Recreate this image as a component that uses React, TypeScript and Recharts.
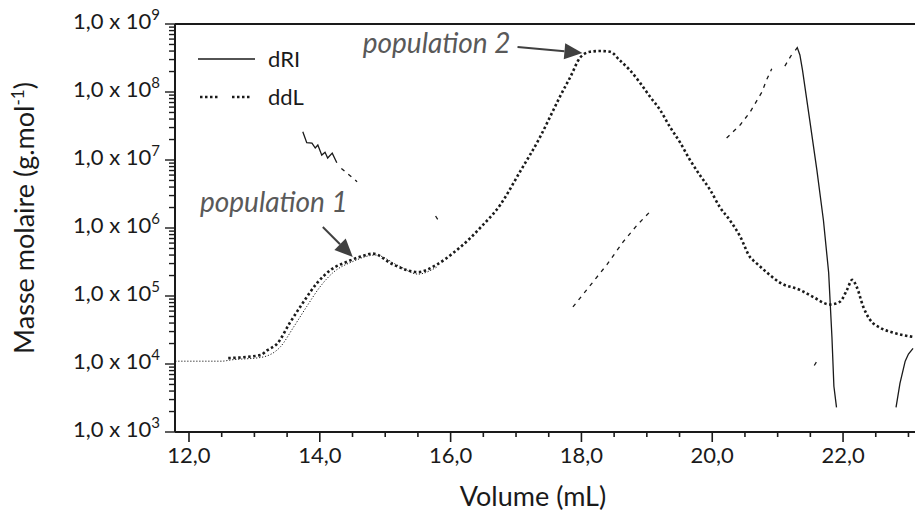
import React from "react";
import {
  LineChart,
  Line,
  XAxis,
  YAxis,
  Legend,
  Label,
  ReferenceLine,
  ReferenceDot,
} from "recharts";

const FONT = "Lato, 'Open Sans', sans-serif";
const INK = "#1a1a1a";
const NOTE = "#595959";

// ---------------------------------------------------------------------------
// Axis ticks
// ---------------------------------------------------------------------------
const volumeTicks = [
  12, 12.5, 13, 13.5, 14, 14.5, 15, 15.5, 16, 16.5, 17, 17.5, 18, 18.5, 19,
  19.5, 20, 20.5, 21, 21.5, 22, 22.5, 23,
];
const volumeLabelled = [12, 14, 16, 18, 20, 22];
const massDecades = [1e3, 1e4, 1e5, 1e6, 1e7, 1e8, 1e9];
const massMinorSteps = [2, 3, 4, 5, 6, 7, 8, 9];
const massTicks = [
  ...massDecades,
  ...massDecades.slice(0, -1).flatMap((d) => massMinorSteps.map((s) => s * d)),
];
const legendNames = ["dRI", "ddL"];

// ---------------------------------------------------------------------------
// Series (volume in mL, molar mass in g/mol, null = gap)
// ---------------------------------------------------------------------------
// ddL: thick dotted trace
const ddlVolume = [
  12.6, 13.09, 13.2, 13.35, 13.54, 13.74, 13.96, 14.16, 14.42, 14.66, 14.81,
  15.12, 15.5, 15.79, 16.04, 16.3, 16.45, 16.76, 17.06, 17.37, 17.52, 17.67,
  17.83, 17.98, 18.13, 18.28, 18.44, 18.59, 18.74, 18.9, 19.05, 19.2, 19.35,
  19.51, 19.66, 19.81, 19.97, 20.12, 20.27, 20.43, 20.58, 20.65, 20.84, 21.04,
  21.34, 21.54, 21.8, 21.95, 22.06, 22.14, 22.21, 22.31, 22.41, 22.57, 22.76,
  23.07,
];
const ddlMass = [
  1.22e4, 1.35e4, 1.6e4, 2.0e4, 4.0e4, 7.9e4, 1.56e5, 2.4e5, 3.2e5, 3.9e5,
  4.2e5, 2.9e5, 2.25e5, 2.9e5, 4.3e5, 7.1e5, 1.0e6, 2.2e6, 6.7e6, 2.2e7,
  4.3e7, 8.5e7, 1.66e8, 3.2e8, 3.9e8, 4.0e8, 3.9e8, 2.9e8, 2.1e8, 1.35e8,
  8.5e7, 5.5e7, 3.1e7, 1.8e7, 1.0e7, 6.0e6, 3.6e6, 2.0e6, 1.3e6, 7.4e5,
  3.7e5, 3.2e5, 2.2e5, 1.56e5, 1.23e5, 9.7e4, 7.5e4, 8.2e4, 1.23e5, 1.73e5,
  1.35e5, 6.9e4, 4.5e4, 3.4e4, 2.9e4, 2.5e4,
];

// fine dotted trace running under the ddL one at low volumes
const fineVolume = [
  11.79, 12.5, 12.65, 13.1, 13.4, 13.6, 13.8, 14.0, 14.2, 14.5, 14.85, 15.2,
  15.5, 15.8,
];
const fineMass = [
  1.1e4, 1.1e4, 1.15e4, 1.25e4, 1.8e4, 3.5e4, 7.0e4, 1.35e5, 2.2e5, 3.2e5,
  4.0e5, 2.8e5, 2.1e5, 2.7e5,
];

// dRI: thin solid pieces
const driVolume = [
  13.74, 13.8, 13.88, 13.93, 13.97, 14.03, 14.08, 14.12, 14.19, 14.26, 14.3,
  21.27, 21.3, 21.34, 21.38, 21.49, 21.6, 21.7, 21.78, 21.83, 21.86, 21.9,
  22.3, 22.81, 22.87, 22.95, 23.0, 23.07,
];
const driMass = [
  2.6e7, 1.8e7, 1.77e7, 1.5e7, 1.66e7, 1.18e7, 1.3e7, 1.07e7, 1.26e7, 9.1e6,
  null, 4.1e8, 4.5e8, 3.5e8, 2.1e8, 3.9e7, 7.1e6, 1.3e6, 2.2e5, 2.5e4, 4.7e3,
  2.3e3, null, 2.3e3, 5.2e3, 1.1e4, 1.4e4, 1.7e4,
];

// dRI: thin dashed pieces
const dashVolume = [
  14.33, 14.57, 14.6, 15.77, 15.81, 15.9, 17.87, 18.08, 18.39, 18.64, 18.85,
  19.05, 19.1, 20.22, 20.43, 20.58, 20.76, 20.83, 20.91, 21.0, 21.11, 21.24,
  21.4, 21.56, 21.6,
];
const dashMass = [
  7.5e6, 4.8e6, null, 1.5e6, 1.3e6, null, 6.9e4, 1.23e5, 2.9e5, 6.3e5, 1.1e6,
  1.74e6, null, 2.1e7, 3.3e7, 5.1e7, 1.0e8, 1.5e8, 2.2e8, null, 2.4e8, 3.9e8,
  null, 9.5e3, 1.1e4,
];

const toRows = (xs: number[], ys: (number | null)[]) =>
  xs.map((volume, i) => ({ volume, mass: ys[i] }));

// ---------------------------------------------------------------------------
// Ticks, labels, legend
// ---------------------------------------------------------------------------
function VolumeTick({ x, y, payload }: any) {
  const v = payload.value as number;
  const major = volumeLabelled.includes(v);
  return (
    <g>
      <line x1={x} x2={x} y1={y} y2={y + (major ? 10 : 5)} stroke={INK} strokeWidth={1.6} />
      {major && (
        <text x={x} y={y + 31} textAnchor="middle" fontFamily={FONT} fontSize={22} fill={INK}>
          {v.toFixed(1).replace(".", ",")}
        </text>
      )}
    </g>
  );
}

function MassTick({ x, y, payload }: any) {
  const v = payload.value as number;
  const exp = Math.round(Math.log10(v));
  const major = massDecades.includes(v);
  return (
    <g>
      <line x1={x - (major ? 10 : 6)} x2={x} y1={y} y2={y} stroke={INK} strokeWidth={1.4} />
      {major && (
        <text x={x - 15} y={y + 5} textAnchor="end" fontFamily={FONT} fontSize={22} fill={INK}>
          1,0 x 10
          <tspan dy={-9} fontSize={15}>
            {exp}
          </tspan>
        </text>
      )}
    </g>
  );
}

function LegendBox({ payload }: any) {
  const entries = (payload || []).filter((e: any) => legendNames.includes(e.value));
  return (
    <div style={{ fontFamily: FONT, fontSize: 22, color: INK, lineHeight: "24px" }}>
      {entries.map((entry: any) => (
        <div
          key={entry.value}
          style={{ display: "flex", alignItems: "center", height: 38, whiteSpace: "nowrap" }}
        >
          <svg width={78} height={10} style={{ flex: "none" }}>
            {entry.value === "dRI" ? (
              <line x1={8} x2={65} y1={5} y2={5} stroke={INK} strokeWidth={1.3} />
            ) : (
              <g stroke={INK} strokeWidth={2.5} strokeDasharray="2.5 2.5">
                <line x1={10} x2={28} y1={5} y2={5} />
                <line x1={42} x2={62} y1={5} y2={5} />
              </g>
            )}
          </svg>
          <span>{entry.value}</span>
        </div>
      ))}
    </div>
  );
}

function Arrow({ x1, y1, x2, y2 }: any) {
  const len = Math.hypot(x2 - x1, y2 - y1);
  const ux = (x2 - x1) / len;
  const uy = (y2 - y1) / len;
  const bx = x2 - ux * 18;
  const by = y2 - uy * 18;
  return (
    <g>
      <line x1={x1} y1={y1} x2={bx} y2={by} stroke="#404040" strokeWidth={2} />
      <polygon
        points={`${x2},${y2} ${bx - uy * 8},${by + ux * 8} ${bx + uy * 8},${by - ux * 8}`}
        fill="#404040"
      />
    </g>
  );
}

const note = (text: string) => (p: any) =>
  (
    <text x={p.cx} y={p.cy} fontFamily={FONT} fontStyle="italic" fontSize={28} fill={NOTE}>
      {text}
    </text>
  );

export default function App() {
  return (
    <div style={{ position: "absolute", left: 0, top: 0, width: 915, height: 512, background: "#fff" }}>
      <LineChart width={915} height={512} margin={{ top: 24, right: 0, bottom: 0, left: 0 }}>
        <XAxis
          type="number"
          dataKey="volume"
          domain={[11.786, 23.1]}
          allowDataOverflow
          ticks={volumeTicks}
          interval={0}
          height={80}
          tickSize={0}
          tickMargin={0}
          tick={<VolumeTick />}
          axisLine={{ stroke: INK, strokeWidth: 2 }}
        >
          <Label
            content={({ viewBox }: any) => (
              <text
                x={viewBox.x + viewBox.width / 2 - 12}
                y={506}
                textAnchor="middle"
                fontFamily={FONT}
                fontSize={27}
                fill={INK}
              >
                Volume (mL)
              </text>
            )}
          />
        </XAxis>
        <YAxis
          type="number"
          scale="log"
          domain={[1e3, 1e9]}
          allowDataOverflow
          ticks={massTicks}
          interval={0}
          width={175}
          tickSize={0}
          tickMargin={0}
          tick={<MassTick />}
          axisLine={{ stroke: INK, strokeWidth: 2 }}
        >
          <Label
            content={({ viewBox }: any) => {
              const cx = viewBox.x + 34;
              const cy = viewBox.y + viewBox.height / 2 - 10;
              return (
                <text
                  x={cx}
                  y={cy}
                  transform={`rotate(-90 ${cx} ${cy})`}
                  textAnchor="middle"
                  fontFamily={FONT}
                  fontSize={27}
                  fill={INK}
                >
                  Masse molaire (g.mol
                  <tspan dy={-10} fontSize={17}>
                    -1
                  </tspan>
                  <tspan dy={10}>)</tspan>
                </text>
              );
            }}
          />
        </YAxis>
        <ReferenceLine y={1e9} stroke={INK} strokeWidth={2} />
        <Legend
          layout="horizontal"
          align="center"
          verticalAlign="middle"
          wrapperStyle={{ left: 190, top: 40, width: 160 }}
          content={<LegendBox />}
        />
        <Line
          name="fine"
          data={toRows(fineVolume, fineMass)}
          dataKey="mass"
          type="monotone"
          stroke={INK}
          strokeWidth={1}
          strokeDasharray="1.2 1.8"
          dot={false}
          activeDot={false}
          legendType="none"
          isAnimationActive={false}
        />
        <Line
          name="dRI"
          data={toRows(driVolume, driMass)}
          dataKey="mass"
          type="linear"
          stroke={INK}
          strokeWidth={1.3}
          dot={false}
          activeDot={false}
          isAnimationActive={false}
        />
        <Line
          name="dRI dashed"
          data={toRows(dashVolume, dashMass)}
          dataKey="mass"
          type="linear"
          stroke={INK}
          strokeWidth={1.3}
          strokeDasharray="4 5"
          dot={false}
          activeDot={false}
          legendType="none"
          isAnimationActive={false}
        />
        <Line
          name="ddL"
          data={toRows(ddlVolume, ddlMass)}
          dataKey="mass"
          type="monotone"
          stroke={INK}
          strokeWidth={2.6}
          strokeDasharray="2.5 2.5"
          dot={false}
          activeDot={false}
          isAnimationActive={false}
        />
        <ReferenceLine
          segment={[
            { x: 14.046, y: 1.035e6 },
            { x: 14.504, y: 3.75e5 },
          ]}
          shape={(p: any) => <Arrow {...p} />}
        />
        <ReferenceLine
          segment={[
            { x: 17.023, y: 4.59e8 },
            { x: 18.015, y: 3.75e8 },
          ]}
          shape={(p: any) => <Arrow {...p} />}
        />
        <ReferenceDot x={12.168} y={1.72e6} r={0} shape={note("population 1")} />
        <ReferenceDot x={14.656} y={3.75e8} r={0} shape={note("population 2")} />
      </LineChart>
    </div>
  );
}
